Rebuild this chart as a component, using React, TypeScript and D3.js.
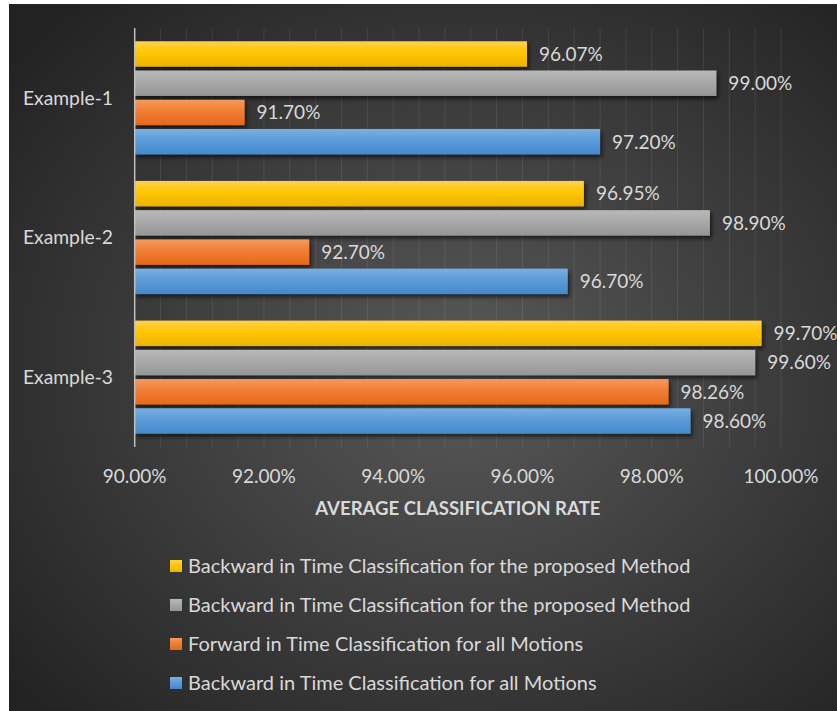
import React, { useEffect, useRef } from 'react';
import * as d3 from 'd3';

const categories = ["Example-1", "Example-2", "Example-3"];
const seriesNames = [
    "Backward in Time Classification for the proposed Method",
    "Backward in Time Classification for the proposed Method",
    "Forward in Time Classification for all Motions",
    "Backward in Time Classification for all Motions"
];
const seriesKeys = ["yellow", "gray", "orange", "blue"];
// values per series, in category order
const yellowValues = [96.07, 96.95, 99.70];
const grayValues = [99.00, 98.90, 99.60];
const orangeValues = [91.70, 92.70, 98.26];
const blueValues = [97.20, 96.70, 98.60];
const xTicks = [90, 92, 94, 96, 98, 100];

const gradients = {
    yellow: ["#ffd04e", "#ffc600", "#ecb300"],
    gray: ["#b9b9b9", "#a9a9a9", "#959595"],
    orange: ["#f59a5e", "#f07d33", "#e5691b"],
    blue: ["#78b0e3", "#5b9bd8", "#4589cc"]
};

const App = () => {
    const ref = useRef(null);

    useEffect(() => {
        const svg = d3.select(ref.current);
        svg.selectAll("*").remove();

        const W = 837, H = 711;
        const font = "Lato, 'Open Sans', sans-serif";
        const textColor = "#d9d9d9";

        const defs = svg.append("defs");
        const bg = defs.append("radialGradient")
            .attr("id", "bg")
            .attr("cx", "55%").attr("cy", "52%").attr("r", "70%");
        bg.append("stop").attr("offset", "0%").attr("stop-color", "#595959");
        bg.append("stop").attr("offset", "100%").attr("stop-color", "#232323");

        seriesKeys.forEach(k => {
            const g = defs.append("linearGradient")
                .attr("id", "grad-" + k)
                .attr("x1", 0).attr("y1", 0).attr("x2", 0).attr("y2", 1);
            g.append("stop").attr("offset", "0%").attr("stop-color", gradients[k][0]);
            g.append("stop").attr("offset", "45%").attr("stop-color", gradients[k][1]);
            g.append("stop").attr("offset", "100%").attr("stop-color", gradients[k][2]);
        });

        const shadow = defs.append("filter").attr("id", "shadow")
            .attr("x", "-5%").attr("y", "-20%").attr("width", "115%").attr("height", "160%");
        shadow.append("feDropShadow")
            .attr("dx", 2).attr("dy", 3).attr("stdDeviation", 2)
            .attr("flood-color", "#000").attr("flood-opacity", 0.6);

        svg.append("rect").attr("width", W).attr("height", H).attr("fill", "#ffffff");
        svg.append("rect")
            .attr("x", 9).attr("y", 4)
            .attr("width", W - 9).attr("height", H - 4)
            .attr("fill", "url(#bg)");

        const x = d3.scaleLinear().domain([90, 100]).range([134.7, 781]);
        const y = d3.scaleBand().domain(categories).range([28, 447])
            .paddingInner(0.19).paddingOuter(0.095);
        const yInner = d3.scaleBand().domain(seriesKeys).range([0, y.bandwidth()])
            .paddingInner(0.13);

        // gridlines every 0.4%
        const grid = d3.range(0, 26).map(i => 90 + i * 0.4);
        svg.append("g").selectAll("line")
            .data(grid.slice(1))
            .enter().append("line")
            .attr("x1", d => x(d)).attr("x2", d => x(d))
            .attr("y1", 28).attr("y2", 447)
            .attr("stroke", "#ffffff")
            .attr("stroke-opacity", 0.09)
            .attr("stroke-width", 1);

        const valuesByKey = {
            yellow: yellowValues,
            gray: grayValues,
            orange: orangeValues,
            blue: blueValues
        };

        const rows = [];
        categories.forEach((c, ci) => {
            seriesKeys.forEach(k => {
                rows.push({ cat: c, key: k, value: valuesByKey[k][ci] });
            });
        });

        svg.append("g").selectAll("rect")
            .data(rows)
            .enter().append("rect")
            .attr("x", x(90))
            .attr("y", d => y(d.cat) + yInner(d.key))
            .attr("width", d => x(d.value) - x(90))
            .attr("height", yInner.bandwidth())
            .attr("fill", d => `url(#grad-${d.key})`)
            .attr("filter", "url(#shadow)");

        svg.append("g").selectAll("text")
            .data(rows)
            .enter().append("text")
            .attr("x", d => x(d.value) + 12)
            .attr("y", d => y(d.cat) + yInner(d.key) + yInner.bandwidth() / 2)
            .attr("dy", "0.36em")
            .attr("fill", textColor)
            .attr("font-family", font)
            .attr("font-size", 19)
            .text(d => `${d.value.toFixed(2)}%`);

        // axis line
        svg.append("line")
            .attr("x1", x(90)).attr("x2", x(90))
            .attr("y1", 28).attr("y2", 447)
            .attr("stroke", "#bfbfbf")
            .attr("stroke-width", 1.5);

        // category labels
        svg.append("g").selectAll("text")
            .data(categories)
            .enter().append("text")
            .attr("x", 113)
            .attr("y", d => y(d) + y.bandwidth() / 2)
            .attr("dy", "0.36em")
            .attr("text-anchor", "end")
            .attr("fill", textColor)
            .attr("font-family", font)
            .attr("font-size", 19.3)
            .text(d => d);

        // x tick labels
        svg.append("g").selectAll("text")
            .data(xTicks)
            .enter().append("text")
            .attr("x", d => x(d))
            .attr("y", 476)
            .attr("dy", "0.36em")
            .attr("text-anchor", "middle")
            .attr("fill", textColor)
            .attr("font-family", font)
            .attr("font-size", 19)
            .text(d => `${d.toFixed(2)}%`);

        svg.append("text")
            .attr("x", (x(90) + x(100)) / 2)
            .attr("y", 508)
            .attr("dy", "0.36em")
            .attr("text-anchor", "middle")
            .attr("fill", textColor)
            .attr("font-family", font)
            .attr("font-weight", "bold")
            .attr("font-size", 18.6)
            .text("AVERAGE CLASSIFICATION RATE");

        // legend
        const legendY = d3.scalePoint().domain(d3.range(seriesKeys.length)).range([566, 683]);
        const legend = svg.append("g").selectAll("g")
            .data(seriesKeys)
            .enter().append("g")
            .attr("transform", (d, i) => `translate(170,${legendY(i)})`);
        legend.append("rect")
            .attr("x", 0).attr("y", -6)
            .attr("width", 12).attr("height", 12)
            .attr("fill", d => `url(#grad-${d})`);
        legend.append("text")
            .attr("x", 18)
            .attr("dy", "0.36em")
            .attr("fill", textColor)
            .attr("font-family", font)
            .attr("font-size", 20)
            .text((d, i) => seriesNames[i]);
    }, []);

    return (
        <svg
            ref={ref}
            width={837}
            height={711}
            style={{ position: "absolute", left: 0, top: 0 }}
        />
    );
};

export default App;
